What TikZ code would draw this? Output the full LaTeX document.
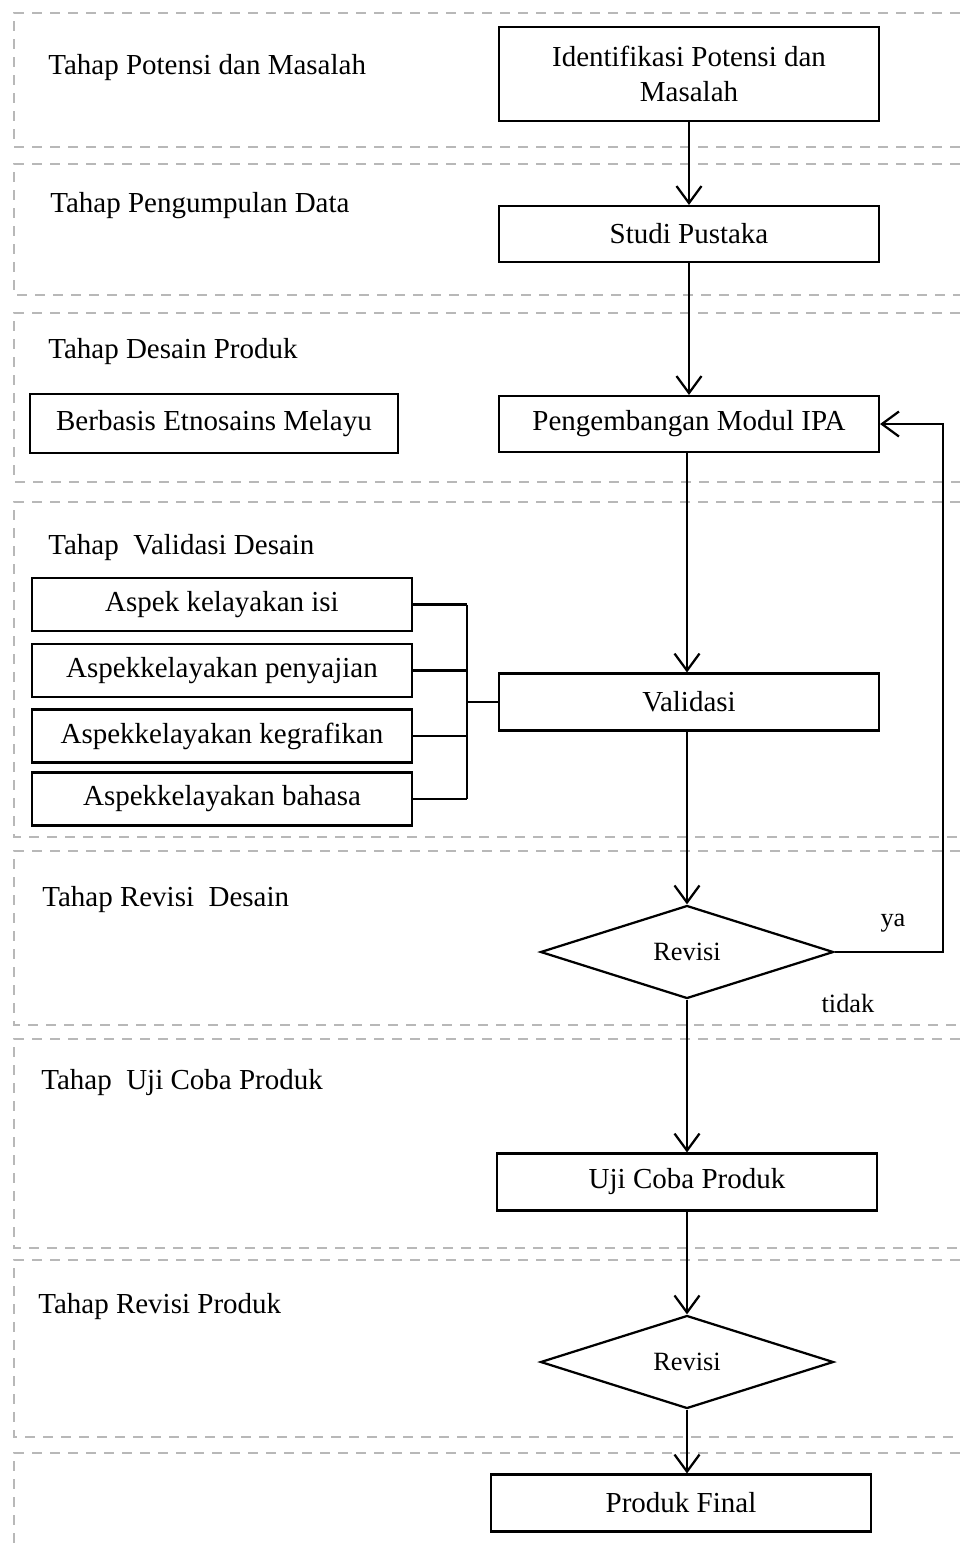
\documentclass[tikz,border=0pt]{standalone}
\usepackage{fontspec}
\setmainfont{Liberation Serif}
\usepackage{tikz}
\usetikzlibrary{arrows.meta}
\usetikzlibrary{shapes.geometric}

\begin{document}
\begin{tikzpicture}[x=0.2mm, y=-0.2mm,
        font=\fontsize{16.5}{19.5}\selectfont,
        box/.style={draw, line width=0.42mm, minimum width=76mm, minimum height=11.2mm, align=center, inner sep=0pt},
        decision/.style={diamond, draw, line width=0.45mm, minimum width=58.6mm, minimum height=18.6mm, inner sep=0pt, font=\fontsize{15}{18}\selectfont},
        stagelabel/.style={anchor=west, inner sep=0pt},
        frame/.style={draw=black!28, line width=0.45mm, dash pattern=on 2mm off 1.6mm},
        flow/.style={line width=0.45mm, -{Straight Barb[length=3.4mm, width=5mm]}},
        link/.style={line width=0.42mm}]
    \useasboundingbox (0,0) rectangle (960,1547);

    % dashed frames of the stages
    \foreach \top/\bot in {13/147, 164/295, 313/482, 502/837, 851/1025, 1039/1248, 1260/1437}
        \draw[frame] (960,\top) -- (14,\top) -- (14,\bot) -- (960,\bot);
    \draw[frame] (960,1453) -- (14,1453) -- (14,1547);

    % stage names
    \node[stagelabel] (tahap1) at (48,68) {Tahap Potensi dan Masalah};
    \node[stagelabel] (tahap2) at (50,206) {Tahap Pengumpulan Data};
    \node[stagelabel] (tahap3) at (48,352) {Tahap Desain Produk};
    \node[stagelabel] (tahap4) at (48,548) {Tahap\ \ Validasi Desain};
    \node[stagelabel] (tahap5) at (42,900) {Tahap Revisi\ \ Desain};
    \node[stagelabel] (tahap6) at (41,1083) {Tahap\ \ Uji Coba Produk};
    \node[stagelabel] (tahap7) at (38,1307) {Tahap Revisi Produk};

    % main flow
    \node[box, minimum height=18.8mm] (ident) at (689,74) {Identifikasi Potensi dan\\Masalah};
    \node[box] (studi) at (689,234) {Studi Pustaka};
    \node[box] (kembang) at (689,424) {Pengembangan Modul IPA};
    \node[box, minimum width=73.6mm, minimum height=11.8mm] (berbasis) at (214,423.5) {Berbasis Etnosains Melayu};
    \node[box, minimum height=11.4mm] (validasi) at (689,702) {Validasi};
    \node[decision] (revisi1) at (687,952) {Revisi};
    \node[box, minimum height=11.4mm] (ujicoba) at (687,1182) {Uji Coba Produk};
    \node[decision] (revisi2) at (687,1362) {Revisi};
    \node[box, minimum height=11.4mm] (final) at (681,1503) {Produk Final};

    % aspects of validation
    \node[box, minimum height=10.6mm] (aspek1) at (222,604.5) {Aspek kelayakan isi};
    \node[box, minimum height=10.6mm] (aspek2) at (222,670.5) {Aspekkelayakan penyajian};
    \node[box, minimum height=10.6mm] (aspek3) at (222,736) {Aspekkelayakan kegrafikan};
    \node[box, minimum height=10.6mm] (aspek4) at (222,799) {Aspekkelayakan bahasa};

    \node (ya) at (893,923) [font=\fontsize{15}{18}\selectfont] {ya};
    \node (tidak) at (848,1003) [font=\fontsize{15}{18}\selectfont] {tidak};

    \coordinate (join) at (467,702);
    \coordinate (loop) at (943,952);

    \draw[flow] (ident.south) -- (studi.north);
    \draw[flow] (studi.south) -- (kembang.north);
    \draw[flow] (kembang.south -| revisi1.north) -- (validasi.north -| revisi1.north);
    \draw[flow] (validasi.south -| revisi1.north) -- (revisi1.north);
    \draw[flow] (revisi1.south) -- (ujicoba.north);
    \draw[flow] (ujicoba.south) -- (revisi2.north);
    \draw[flow] (revisi2.south) -- (revisi2.south |- final.north);
    \draw[flow] (revisi1.east) -- (loop) |- (kembang.east);

    \foreach \i in {1,...,4}
        \draw[link] (aspek\i.east) -- (aspek\i.east -| join);
    \draw[link] (aspek1.east -| join) -- (aspek4.east -| join);
    \draw[link] (join) -- (validasi.west);
\end{tikzpicture}
\end{document}
